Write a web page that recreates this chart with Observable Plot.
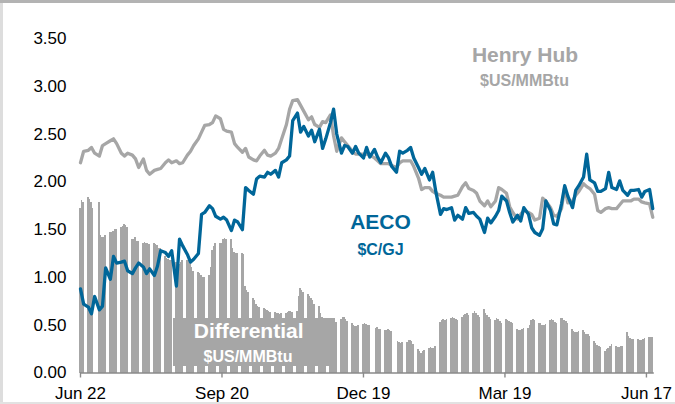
<!DOCTYPE html>
<html><head><meta charset="utf-8">
<script src="https://cdn.jsdelivr.net/npm/d3@7"></script>
<script src="https://cdn.jsdelivr.net/npm/@observablehq/plot@0.6"></script>
<style>
html,body{margin:0;padding:0;background:#fff;}
#wrap{position:relative;width:675px;height:404px;overflow:hidden;background:#fff;}
#wrap svg{display:block;}
.edge{position:absolute;}
</style></head><body>
<div id="wrap"></div>
<script>
// Week rows start on Monday 2016-06-20; line samples are Mon/Wed/Fri, bars are Mon..Fri
const firstMonday = "2016-06-20";
const henryHub = [
 [null,2.20,2.32],[2.33,2.36,2.30],[2.27,2.38,2.40],[2.43,2.45,2.40],[2.30,2.27,2.30],
 [2.28,2.24,2.15],[2.24,2.12,2.08],[2.12,2.13,2.14],[2.20,2.23,2.20],[2.22,2.19,2.20],
 [2.28,2.32,2.38],[2.45,2.52,2.59],[2.60,2.62,2.69],[2.66,2.55,2.53],[2.52,2.40,2.36],
 [2.31,2.35,2.26],[2.23,2.22,2.27],[2.33,2.28,2.27],[2.30,2.35,2.45],[2.60,2.76,2.85],
 [2.86,2.80,2.74],[2.65,2.68,2.60],[2.57,2.63,2.62],[2.70,2.48,2.32],[2.46,2.42,2.38],
 [2.32,2.29,2.29],[2.29,2.29,2.28],[2.25,2.22,2.19],[2.19,2.19,2.17],[2.15,2.20,2.22],
 [2.22,2.22,2.16],[2.04,1.92,1.94],[1.94,1.90,1.88],[1.86,1.84,1.84],[1.84,1.85,1.86],
 [1.95,1.99,1.93],[1.91,1.88,1.80],[1.75,1.80,1.74],[1.80,1.94,1.92],[1.88,1.74,1.68],
 [1.61,1.66,1.70],[1.68,1.66,1.60],[1.62,1.83,1.80],[1.73,1.65,1.64],[1.72,1.94,1.78],
 [1.80,1.86,1.90],[1.98,1.95,1.93],[1.87,1.70,1.68],[1.72,1.73,1.72],[1.72,1.76,1.80],
 [1.80,1.80,1.82],[1.82,1.79,1.78],[1.77,1.63,null]
];
const aeco = [
 [null,0.88,0.72],[0.69,0.62,0.80],[0.66,0.70,1.10],[0.98,1.22,1.15],[1.16,1.17,1.07],
 [1.04,1.10,1.15],[1.11,1.04,1.09],[1.02,1.12,1.28],[1.26,1.22,1.28],[0.91,1.40,1.33],
 [1.24,1.16,1.19],[1.25,1.66,1.68],[1.75,1.72,1.64],[1.61,1.63,1.60],[1.49,1.60,1.58],
 [1.50,1.94,1.91],[1.87,2.03,2.06],[2.05,2.10,2.08],[2.12,2.05,2.20],[2.23,2.27,2.64],
 [2.72,2.52,2.58],[2.48,2.54,2.42],[2.55,2.35,2.45],[2.62,2.76,2.50],[2.30,2.38,2.37],
 [2.30,2.37,2.30],[2.25,2.36,2.26],[2.34,2.26,2.20],[2.30,2.25,2.16],[2.10,2.32,2.30],
 [2.33,2.36,2.25],[2.15,2.08,2.14],[2.02,2.10,1.90],[1.66,1.72,1.71],[1.73,1.60,1.65],
 [1.61,1.73,1.67],[1.68,1.64,1.61],[1.47,1.62,1.57],[1.64,1.70,1.85],[1.80,1.68,1.58],
 [1.65,1.59,1.73],[1.66,1.52,1.47],[1.44,1.51,1.80],[1.70,1.56,1.55],[1.77,1.96,1.85],
 [1.73,1.91,1.96],[2.05,2.29,2.02],[1.99,1.90,1.90],[1.93,2.10,1.94],[1.92,2.01,1.91],
 [1.86,1.91,1.91],[1.92,1.84,1.90],[1.92,1.72,null]
];
const differential = [
 [null,null,1.72,1.80,1.78],[1.84,1.82,1.78,1.72,null],[1.78,1.44,1.42,1.42,1.44],
 [1.47,1.47,1.48,1.50,1.50],[1.52,1.53,1.55,1.54,1.52],[1.40,1.40,1.42,1.38,1.38],
 [1.36,1.37,1.36,1.35,1.34],[1.35,1.34,1.33,1.30,1.30],[1.22,1.20,1.19,1.18,1.18],
 [1.16,1.15,1.14,1.16,1.18],[1.18,1.19,1.17,1.10,1.06],[1.05,1.04,1.02,1.00,1.00],
 [1.02,1.10,1.28,1.32,1.35],[1.35,1.36,1.40,1.41,1.40],[1.40,1.30,1.26,1.25,1.25],
 [1.25,1.24,0.90,0.86,0.84],[0.78,0.76,0.72,0.70,0.69],[0.68,0.66,0.65,0.64,0.63],
 [0.63,0.62,0.62,0.61,0.62],[0.62,0.63,0.64,0.64,0.63],[0.64,0.80,0.88,0.86,0.84],
 [0.82,0.80,0.78,0.76,0.72],[0.70,0.62,0.58,0.57,0.56],[0.54,0.52,0.52,0.50,0.53],
 [0.56,0.58,0.58,0.56,0.54],[0.52,0.50,0.49,0.49,0.50],[0.51,0.52,0.51,0.50,0.50],
 [null,0.47,0.48,0.46,0.45],[0.44,0.44,0.45,0.44,0.43],[null,0.33,0.32,0.31,0.32],
 [0.32,0.34,0.34,0.33,0.30],[0.25,0.22,0.20,0.22,0.24],[0.26,0.27,0.26,0.26,0.28],
 [0.53,0.55,0.56,0.55,0.56],[0.57,0.58,0.57,0.56,0.55],[0.58,0.60,0.61,0.62,0.60],
 [0.62,0.64,0.62,0.60,0.58],[0.66,0.62,0.60,0.58,0.56],[0.55,0.57,0.56,0.54,0.52],
 [0.56,0.55,0.54,0.53,0.52],[0.46,0.44,0.44,0.45,0.47],[0.47,0.50,0.55,0.56,0.55],
 [0.52,0.52,0.50,0.50,0.51],[0.55,0.56,0.55,0.53,0.52],[0.57,0.57,0.55,0.54,0.52],
 [0.45,0.43,0.42,0.42,0.43],[0.44,0.42,0.40,0.40,0.38],[0.33,0.31,0.29,0.28,0.27],
 [0.23,0.25,0.26,0.28,0.30],[0.28,0.27,0.27,0.28,0.28],[0.42,0.38,0.36,0.35,0.35],
 [0.35,0.34,0.34,0.35,0.36],[0.37,0.37,0.37,null,null]
];
const xDomain = ["2016-06-22","2017-06-22"];
const xTickDates = ["2016-06-22","2016-09-20","2016-12-19","2017-03-19","2017-06-17"];
const yTickValues = [0,0.5,1,1.5,2,2.5,3,3.5];
const seriesLabels = [
  {text:"Henry Hub", sub:"$US/MMBtu", color:"#a6a6a6"},
  {text:"AECO", sub:"$C/GJ", color:"#006699"},
  {text:"Differential", sub:"$US/MMBtu", color:"#ffffff"}
];

const DAY = 864e5;
const mon0 = new Date(firstMonday + "T00:00:00Z").getTime();
function lineRows(rows){
  const out=[];
  rows.forEach((wk,k)=>wk.forEach((v,j)=>{ if(v!=null) out.push({date:new Date(mon0+(7*k+2*j)*DAY), value:v}); }));
  return out;
}
const hhRows = lineRows(henryHub);
const aecoRows = lineRows(aeco);
const barRows = [];
differential.forEach((wk,k)=>wk.forEach((v,j)=>{
  if(v==null) return;
  const c = mon0+(7*k+j)*DAY;
  barRows.push({x1:new Date(c-DAY/2), x2:new Date(c+DAY/2), value:v});
}));

const FONT = "'Liberation Sans', Arial, Helvetica, sans-serif";
const plot = Plot.plot({
  width:675, height:404,
  marginLeft:80, marginRight:21.2, marginTop:38, marginBottom:31.5,
  style:{fontFamily:FONT, fontSize:"17px", color:"#000", background:"#fff", overflow:"visible"},
  x:{type:"utc", domain:xDomain.map(d=>new Date(d+"T00:00:00Z"))},
  y:{domain:[0,3.5]},
  marks:[
    Plot.rect(barRows,{x1:"x1",x2:"x2",y1:0,y2:"value",fill:"#a6a6a6",shapeRendering:"crispEdges"}),
    Plot.ruleY([0],{stroke:"#8a8a8a",strokeWidth:1.4}),
    Plot.axisX({ticks:xTickDates.map(d=>new Date(d+"T00:00:00Z")), tickFormat:d3.utcFormat("%b %d"),
      tickSize:5, tickPadding:9, stroke:"#8a8a8a", strokeWidth:1.4, fill:"#000", label:null, fontSize:17}),
    Plot.axisY({ticks:yTickValues, tickFormat:d3.format(".2f"), tickSize:0, tickPadding:14, fill:"#000", label:null, fontSize:17}),
    Plot.line(hhRows,{x:"date",y:"value",stroke:"#a6a6a6",strokeWidth:3.3,strokeLinejoin:"round",strokeLinecap:"round"}),
    Plot.line(aecoRows,{x:"date",y:"value",stroke:"#006699",strokeWidth:3.3,strokeLinejoin:"round",strokeLinecap:"round"})
  ]
});
const wrap = document.getElementById("wrap");
wrap.appendChild(plot);

// Annotations
const svg = d3.select(plot);
const ann = svg.append("g").attr("font-family",FONT).attr("font-weight","bold").attr("text-anchor","middle");
ann.append("rect").attr("x",173).attr("y",318).attr("width",162).attr("height",48).attr("fill","#a6a6a6");
const pos = [[525,61.5,524.5,86.4],[380.5,229.2,380.5,255],[248.7,337.5,248,362.4]];
seriesLabels.forEach((l,i)=>{
  const p = pos[i];
  ann.append("text").attr("x",p[0]).attr("y",p[1]).attr("font-size",21).attr("fill",l.color).text(l.text);
  ann.append("text").attr("x",p[2]).attr("y",p[3]).attr("font-size",16).attr("fill",l.color).text(l.sub);
});

// Frame edges
[["0px","0px","675px","3px","#b3b3b3"],["0px","3px","2.7px","401px","#dddddd"],["0px","401.5px","675px","2.5px","#e2e2e2"]]
.forEach(([l,t,w,h,c])=>{
  const d=document.createElement("div"); d.className="edge";
  Object.assign(d.style,{left:l,top:t,width:w,height:h,background:c});
  wrap.appendChild(d);
});
</script>
</body></html>
